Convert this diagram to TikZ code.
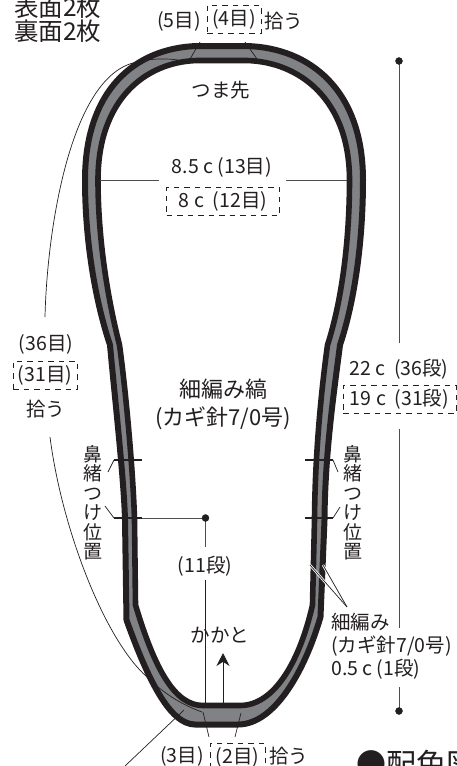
\documentclass[tikz,border=0pt]{standalone}
\usepackage{fontspec}
\setmainfont{Noto Sans CJK JP}
\usetikzlibrary{arrows.meta}
\definecolor{bandgrey}{HTML}{808285}
\definecolor{inkblack}{HTML}{231F20}
\tikzset{
  lbl/.style={inner sep=0pt, text=inkblack, font=\fontsize{19.5}{23}\selectfont},
  bigl/.style={inner sep=0pt, text=inkblack, font=\fontsize{22}{28}\selectfont},
  dashbox/.style={lbl, draw=inkblack, line width=0.7pt, dash pattern=on 5.5pt off 5pt, anchor=center},
  thin line/.style={inkblack, line width=0.7pt},
  dim line/.style={inkblack!80, line width=1pt},
  tick/.style={inkblack, line width=2pt},
}
\begin{document}
\begin{tikzpicture}[x=1pt,y=-1pt]
    \useasboundingbox (0,0) rectangle (457,766);
    \clip (0,0) rectangle (457,766);

    % band, outer and inner edge
    \draw[inkblack, line width=6pt, fill=bandgrey, line join=miter]
      (197,46) -- (247,46) .. controls (310,48) and (363,90) .. (363,180)
      .. controls (363,240) and (355,300) .. (340,345)
      .. controls (335,385) and (325,450) .. (324.5,520) -- (320.5,617)
      .. controls (305,670) and (275,724.5) .. (238,724.5) -- (195,724.5)
      .. controls (170,724.5) and (148,680) .. (126.5,620) -- (125,520)
      .. controls (124,480) and (115,400) .. (110,345)
      .. controls (95,300) and (85,240) .. (85,180)
      .. controls (85,90) and (135,48) .. (197,46) -- cycle;
    \draw[inkblack, line width=5.6pt, fill=white, line join=miter]
      (197,60.5) -- (247,60.5) .. controls (300,62) and (349.5,100) .. (349.5,180)
      .. controls (349.5,240) and (342,300) .. (327.5,345)
      .. controls (322,385) and (315,450) .. (314.5,520) -- (312.5,605)
      .. controls (300,660) and (275,705.5) .. (240,705.5) -- (203,705.5)
      .. controls (175,705.5) and (155,670) .. (135.5,605) -- (134.5,520)
      .. controls (133.5,480) and (127,400) .. (119.5,345)
      .. controls (108,300) and (98,240) .. (98,180)
      .. controls (98,100) and (145,62) .. (197,60.5) -- cycle;

    \coordinate (topa) at (190,59); \coordinate (topb) at (200,42);
    \coordinate (topc) at (257,59); \coordinate (topd) at (245,42);
    \coordinate (heela) at (203,712); \coordinate (heelb) at (209,737);
    \coordinate (heelc) at (241,713); \coordinate (heeld) at (235,737);
    \draw[thin line] (topa)--(topb); \draw[thin line] (topc)--(topd);
    \draw[thin line] (heela)--(heelb); \draw[thin line] (heelc)--(heeld);

    % labels
    \node[bigl, anchor=west, font=\fontsize{24.5}{28}\selectfont] (face) at (14,7) {表面2枚};
    \node[bigl, anchor=west, font=\fontsize{24.5}{28}\selectfont] (back) at (14,31.5) {裏面2枚};
    \node[lbl] (five) at (179,21) {(5目)};
    \node[dashbox, minimum width=54pt, minimum height=28pt] (four) at (234,19) {(4目)};
    \node[lbl, anchor=west] (pick) at (264,21) {拾う};
    \node[lbl] (toe) at (221,90) {つま先};
    \node[lbl] (wide) at (222,167) {8.5 c\ (13目)};
    \node[dashbox, minimum width=113pt, minimum height=28pt] (narrow) at (223,201) {8 c\ \ (12目)};
    \node[lbl] (sts) at (46,344) {(36目)};
    \node[dashbox, minimum width=64pt, minimum height=28pt] (fewer) at (45,375) {(31目)};
    \node[lbl] (pickl) at (46,409) {拾う};
    \node[bigl, align=center] (main) at (223,404) {細編み縞\\(カギ針7/0号)};
    \node[lbl] (tall) at (399,369) {22 c\ \ (36段)};
    \node[dashbox, minimum width=113pt, minimum height=28pt] (short) at (399.5,399) {19 c\ \ (31段)};
    \node[lbl, align=center, font=\fontsize{19}{19.5}\selectfont] (nosel) at (93,503) {鼻\\緒\\つ\\け\\位\\置};
    \node[lbl, align=center, font=\fontsize{19}{19.5}\selectfont] (noser) at (353,503) {鼻\\緒\\つ\\け\\位\\置};
    \node[lbl] (rows) at (205,566) {(11段)};
    \node[lbl] (heel) at (220,635) {かかと};
    \node[lbl, anchor=west, align=left] (edge) at (331,646) {細編み\\(カギ針7/0号)\\0.5 c\ (1段)};
    \node[lbl] (three) at (182,756) {(3目)};
    \node[dashbox, minimum width=55pt, minimum height=28pt] (two) at (237.5,757) {(2目)};
    \node[lbl, anchor=west] (pickb) at (269,756) {拾う};
    \node[bigl, anchor=west, font=\fontsize{30}{32}\selectfont] (chart) at (356,764) {●配色図};

    % measure lines
    \coordinate (wl) at (100,180.5); \coordinate (wm) at (159,180.5);
    \coordinate (wn) at (286,180.5); \coordinate (wr) at (347,180.5);
    \draw[dim line] (wl)--(wm); \draw[dim line] (wn)--(wr);

    \coordinate (ra) at (399,61); \coordinate (rb) at (399,343);
    \coordinate (rc) at (399,429); \coordinate (rd) at (399,628);
    \coordinate (re) at (399,687); \coordinate (rf) at (399,711);
    \draw[dim line] (ra)--(rb); \draw[dim line] (rc)--(rd); \draw[dim line] (re)--(rf);

    \coordinate (tla) at (114,460); \coordinate (tlb) at (142,460);
    \coordinate (tlc) at (114,518); \coordinate (tld) at (142,518);
    \coordinate (tra) at (305,460); \coordinate (trb) at (333,460);
    \coordinate (trc) at (305,518); \coordinate (trd) at (333,518);
    \coordinate (sola) at (108,472); \coordinate (solb) at (105,506);
    \coordinate (sora) at (338,472); \coordinate (sorb) at (340,507);
    \coordinate (cd) at (205.5,518); \coordinate (ce) at (205.5,547);
    \coordinate (cf) at (205.5,580); \coordinate (cg) at (205.5,708);
    \draw[dim line] (tld)--(cd)--(ce); \draw[thin line] (cf)--(cg);
    \draw[tick] (tla)--(tlb); \draw[tick] (tlc)--(tld);
    \draw[tick] (tra)--(trb); \draw[tick] (trc)--(trd);
    \draw[thin line] (sola)--(tla); \draw[thin line] (solb)--(tlc);
    \draw[thin line] (sora)--(trb); \draw[thin line] (sorb)--(trd);

    \foreach \p in {ra,rf,cd} \filldraw[inkblack] (\p) circle (3.5pt);

    % heel arrow
    \coordinate (aa) at (223,708); \coordinate (ab) at (223,653);
    \draw[inkblack, line width=1pt, -{Stealth[length=13pt,width=13pt]}] (aa)--(ab);

    % picked up lines
    \draw[thin line] (45,317) .. controls (47,230) and (70,80) .. (133,63) .. controls (150,58) and (170,58) .. (183,61);
    \draw[thin line] (50,437) .. controls (62,530) and (105,640) .. (147,677) .. controls (165,695) and (185,706) .. (202,712);
    \coordinate (da) at (125,766); \coordinate (db) at (184,710);
    \draw[thin line] (da)--(db);

    % edge lines
    \coordinate (ea) at (310,565); \coordinate (eb) at (323,565); \coordinate (ec) at (347,607);
    \draw[white, line width=2.4pt] (ea)--(ec); \draw[white, line width=2.4pt] (eb)--(ec);
    \draw[thin line] (ea)--(ec); \draw[thin line] (eb)--(ec);
\end{tikzpicture}
\end{document}
